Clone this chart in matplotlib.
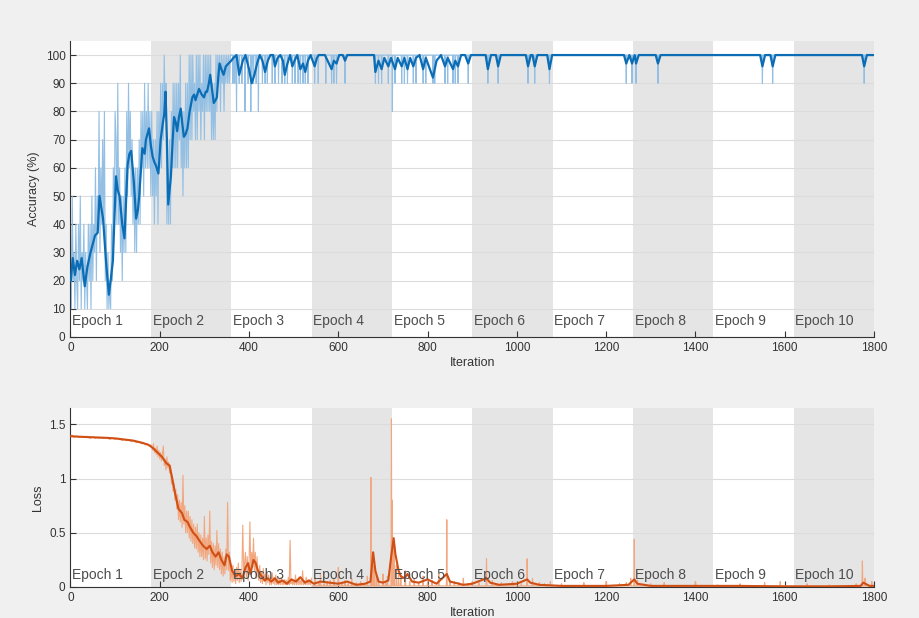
import matplotlib.pyplot as plt
import numpy as np

#----------------------------------------------------------------
# values
n_iter = 1800
epoch_len = 180
epoch_names = ["Epoch %d" % (i + 1) for i in range(10)]
xticks = [0, 200, 400, 600, 800, 1000, 1200, 1400, 1600, 1800]

# raw accuracy, epochs 1-2, one value every 2 iterations
acc_raw_early = [40, 10, 50, 20, 30, 10, 40, 20, 10, 40, 20, 50, 10, 30, 20, 40,
                 10, 30, 20, 10, 40, 20, 40, 10, 50, 20, 40, 30, 60, 20, 50,
                 40, 80, 30, 60, 40, 70, 40,
                 80, 20, 40, 10, 30, 10, 20, 10,
                 40, 20, 60, 40, 80,
                 70, 40, 90, 40, 60, 30, 50, 20, 50, 30,
                 60, 30, 80, 50, 90, 60, 80, 50, 70, 40,
                 60, 30, 60, 30, 60, 40, 70, 40, 80, 60,
                 80, 50, 90, 60, 80, 60, 90, 60, 80, 50,
                 80, 50, 70, 40, 70, 50, 80, 40, 80, 60,
                 90, 60, 90, 70, 100, 80, 90, 40, 60, 40,
                 70, 40, 80, 60, 90, 60, 90, 60, 90, 60,
                 90, 70, 100, 60, 80, 50, 80, 60, 90, 60,
                 90, 60, 100, 70, 100, 70, 100, 80, 90, 70,
                 100, 70, 100, 80, 100, 70, 90, 80, 100, 70,
                 100, 80, 100, 80, 100, 80, 100, 70, 90, 70,
                 90, 70, 100, 80, 100, 90, 100, 80, 100, 90,
                 100, 80, 100, 90, 100, 90, 100, 90, 100, 100]
# raw accuracy after that sits at 100 except for these drops
acc_dip_it = [364, 368, 372, 378, 384, 391, 398, 404, 406, 410, 416, 421, 430, 436,
              441, 452, 458, 466, 474, 480, 486, 497, 503, 510, 515, 521, 526, 532,
              547, 555, 572, 585, 590, 596, 615, 683, 690, 697, 712, 721, 727, 742,
              748, 755, 768, 774, 790, 796, 812, 816, 839, 845, 857, 862, 868, 891,
              935, 958, 1025, 1040, 1073, 1245, 1258, 1267, 1316, 1550, 1573, 1778]
acc_dip_val = [90, 90, 80, 90, 90, 80, 90, 80, 90, 90, 90, 80, 90, 90,
               90, 90, 90, 90, 90, 90, 90, 90, 90, 90, 90, 90, 90, 90,
               90, 90, 90, 90, 90, 90, 90, 90, 90, 90, 90, 80, 90, 90,
               90, 90, 90, 90, 90, 90, 90, 90, 90, 90, 90, 90, 90, 90,
               90, 90, 90, 90, 90, 90, 90, 90, 90, 90, 90, 90]

# smoothed accuracy
acc_sm_it = [1, 5, 10, 15, 20, 25, 32, 38, 45, 50, 55, 61, 65, 70, 73, 80, 86, 90, 95,
             102, 106, 110, 116, 121, 125, 128, 132, 136, 142, 147, 151, 154, 158, 161,
             166, 169, 176, 180, 184, 188, 191, 197, 202, 207, 210, 213, 216, 219, 222,
             225, 229, 232, 236, 239, 243, 247, 251, 254, 258, 262, 267, 273, 277, 280,
             284, 288, 294, 299, 303, 306, 310, 313, 317, 321, 325, 328, 331, 334, 338,
             343, 348, 354, 360, 365, 372, 378, 386, 392, 400, 406, 412, 418, 424, 430,
             436, 442, 448, 454, 458, 464, 470, 476, 480, 486, 492, 497, 502, 508, 515,
             521, 526, 532, 538, 547, 552, 556, 570, 585, 590, 596, 602, 610, 615, 620,
             680, 683, 690, 697, 703, 712, 718, 727, 733, 742, 748, 755, 761, 768, 774,
             782, 790, 796, 812, 820, 830, 839, 845, 857, 862, 868, 875, 884, 891, 897,
             930, 935, 942, 953, 958, 964, 1020, 1025, 1031, 1035, 1040, 1046, 1068,
             1073, 1079, 1240, 1245, 1252, 1258, 1264, 1267, 1273, 1311, 1316, 1322,
             1545, 1550, 1556, 1568, 1573, 1579, 1773, 1778, 1784, 1800]
acc_sm_val = [20, 28, 22, 27, 24, 28, 18, 25, 30, 33, 36, 37, 50, 45, 42, 26, 15, 20, 27,
              57, 52, 50, 40, 35, 50, 61, 65, 66, 55, 42, 45, 50, 60, 67,
              65, 70, 74, 68, 64, 62, 61, 58, 70, 76, 79, 87, 70, 47, 52,
              57, 70, 78, 76, 73, 78, 81, 75, 71, 72, 74, 80, 85, 86, 84,
              86, 88, 86, 85, 87, 87, 90, 93, 88, 83, 84, 85, 92, 97, 95,
              93, 96, 97, 98, 99, 100, 93, 98, 100, 95, 90, 93, 97, 100, 98,
              94, 98, 100, 100, 96, 99, 100, 98, 93, 97, 100, 96, 98, 100, 95,
              97, 94, 98, 100, 96, 99, 100, 100, 95, 98, 97, 100, 100, 98, 100,
              100, 94, 98, 95, 99, 96, 99, 95, 99, 96, 99, 95, 99, 96, 99,
              100, 95, 99, 92, 98, 100, 96, 99, 95, 98, 96, 100, 100, 97, 100,
              100, 95, 100, 100, 96, 100, 100, 96, 100, 100, 96, 100, 100,
              95, 100, 100, 97, 100, 97, 100, 97, 100, 100, 97, 100,
              100, 96, 100, 100, 96, 100, 100, 96, 100, 100]

# raw loss, epoch 1 every 4 iterations, then every 2 iterations up to 540
loss_raw_ep1 = [1.39, 1.40, 1.38, 1.39, 1.39, 1.38, 1.39, 1.38, 1.38, 1.39, 1.38, 1.37,
                1.38, 1.38, 1.37, 1.38, 1.37, 1.38, 1.37, 1.37, 1.38, 1.37, 1.36, 1.37,
                1.37, 1.36, 1.37, 1.36, 1.36, 1.35, 1.36, 1.35, 1.35, 1.36, 1.34, 1.35,
                1.34, 1.33, 1.34, 1.33, 1.32, 1.33, 1.31, 1.32, 1.30, 1.31]
loss_raw_ep2 = [1.30, 1.26, 1.32, 1.24, 1.28, 1.22, 1.30, 1.20, 1.26, 1.18,
                1.24, 1.16, 1.22, 1.30, 1.12, 1.18, 1.08, 1.20, 1.10, 1.15,
                1.05, 1.12, 0.95, 1.02, 0.88, 0.95, 0.80, 0.90, 0.72, 0.85,
                0.62, 0.80, 0.60, 0.78, 0.55, 1.03, 0.58, 0.75, 0.50, 0.70,
                0.50, 0.70, 0.45, 0.65, 0.42, 0.62, 0.40, 0.58, 0.36, 0.55,
                0.35, 0.58, 0.32, 0.50, 0.28, 0.48, 0.28, 0.45, 0.25, 0.65,
                0.26, 0.45, 0.24, 0.48, 0.30, 0.70, 0.22, 0.42, 0.18, 0.40,
                0.16, 0.38, 0.20, 0.52, 0.18, 0.40, 0.16, 0.35, 0.12, 0.32,
                0.10, 0.28, 0.12, 0.35, 0.16, 0.78, 0.15, 0.32, 0.06, 0.18,
                0.04, 0.20, 0.05, 0.15, 0.03, 0.18, 0.06, 0.22, 0.04, 0.16,
                0.05, 0.15, 0.57, 0.12, 0.22, 0.32, 0.08, 0.28, 0.06, 0.22,
                0.60, 0.12, 0.32, 0.18, 0.45, 0.15, 0.32, 0.08, 0.28, 0.10,
                0.06, 0.20, 0.04, 0.14, 0.03, 0.17, 0.05, 0.12, 0.02, 0.14,
                0.04, 0.11, 0.02, 0.09, 0.02, 0.13, 0.03, 0.09, 0.02, 0.11,
                0.02, 0.08, 0.02, 0.07, 0.02, 0.09, 0.02, 0.06, 0.02, 0.07,
                0.02, 0.06, 0.02, 0.09, 0.02, 0.43, 0.03, 0.07, 0.02, 0.06,
                0.02, 0.11, 0.02, 0.07, 0.02, 0.09, 0.02, 0.06, 0.02, 0.15,
                0.02, 0.06, 0.02, 0.09, 0.02, 0.07, 0.02, 0.06, 0.02, 0.08]
loss_floor = 0.01
loss_spike_it = [548, 556, 560, 568, 575, 582, 590, 600, 608, 615, 622, 630, 640, 650,
                 658, 665, 673, 676, 680, 685, 690, 700, 706, 710, 719, 721, 725, 730,
                 735, 740, 750, 760, 770, 780, 790, 800, 810, 825, 843, 850, 860, 870,
                 880, 890, 900, 915, 932, 945, 955, 965, 990, 1010, 1023, 1035, 1050,
                 1062, 1075, 1100, 1150, 1200, 1230, 1245, 1255, 1263, 1270, 1300, 1330,
                 1400, 1450, 1500, 1555, 1590, 1650, 1700, 1760, 1774, 1780, 1795]
loss_spike_val = [0.08, 0.04, 0.12, 0.03, 0.05, 0.06, 0.07, 0.18, 0.04, 0.06, 0.03, 0.08,
                  0.04, 0.05, 0.03, 0.10, 1.01, 0.30, 0.20, 0.12, 0.08, 0.12, 0.05, 0.10,
                  1.55, 0.80, 0.40, 0.20, 0.12, 0.10, 0.15, 0.05, 0.08, 0.04, 0.10, 0.05,
                  0.06, 0.12, 0.62, 0.06, 0.05, 0.04, 0.08, 0.03, 0.05, 0.04, 0.26, 0.06,
                  0.03, 0.04, 0.05, 0.03, 0.26, 0.08, 0.04, 0.03, 0.05, 0.03, 0.04, 0.05,
                  0.03, 0.04, 0.08, 0.44, 0.06, 0.03, 0.04, 0.05, 0.02, 0.03, 0.04, 0.05,
                  0.03, 0.02, 0.03, 0.24, 0.08, 0.05]

# smoothed loss
loss_sm_it = [0, 20, 50, 80, 100, 120, 140, 160, 175, 185, 195, 205, 215, 222, 228, 235,
              242, 250, 255, 262, 268, 275, 282, 290, 297, 305, 312, 318, 325, 332, 338,
              345, 350, 355, 362, 370, 378, 385, 392, 398, 403, 410, 415, 420, 428, 435,
              442, 450, 458, 465, 475, 485, 495, 505, 515, 525, 535, 545, 560, 580, 600,
              620, 640, 660, 672, 678, 683, 690, 700, 712, 719, 724, 728, 735, 740, 748,
              755, 765, 780, 800, 820, 843, 850, 860, 880, 900, 932, 940, 960, 1000,
              1023, 1030, 1050, 1100, 1150, 1200, 1250, 1263, 1270, 1300, 1400, 1500,
              1600, 1700, 1770, 1776, 1790, 1800]
loss_sm_val = [1.39, 1.385, 1.38, 1.375, 1.37, 1.36, 1.35, 1.33, 1.31, 1.28, 1.24, 1.20,
               1.14, 1.12, 1.00, 0.85, 0.72, 0.68, 0.62, 0.60, 0.55, 0.50, 0.47, 0.42,
               0.38, 0.35, 0.38, 0.32, 0.28, 0.32, 0.25, 0.20, 0.30, 0.28, 0.15, 0.10,
               0.12, 0.08, 0.18, 0.22, 0.12, 0.25, 0.22, 0.15, 0.10, 0.06, 0.08, 0.05,
               0.08, 0.04, 0.06, 0.03, 0.07, 0.05, 0.09, 0.04, 0.06, 0.03, 0.05, 0.04,
               0.03, 0.05, 0.02, 0.03, 0.05, 0.32, 0.15, 0.05, 0.04, 0.06, 0.30, 0.45,
               0.30, 0.15, 0.10, 0.08, 0.12, 0.05, 0.04, 0.07, 0.03, 0.12, 0.05, 0.04,
               0.02, 0.03, 0.08, 0.04, 0.02, 0.03, 0.07, 0.04, 0.02, 0.01, 0.01, 0.01,
               0.02, 0.07, 0.03, 0.01, 0.01, 0.01, 0.005, 0.005, 0.01, 0.04, 0.01, 0.01]

#----------------------------------------------------------------
# per-iteration x values for the raw series
it_acc_early = np.arange(0, 2 * len(acc_raw_early), 2)
it_late = np.arange(it_acc_early[-1] + 1, n_iter + 1)
acc_raw_late = np.full(len(it_late), 100.0)
for i, v in zip(acc_dip_it, acc_dip_val):
	acc_raw_late[i - it_late[0]] = v

it_loss_ep1 = np.arange(0, 4 * len(loss_raw_ep1), 4)
it_loss_ep2 = np.arange(it_loss_ep1[-1] + 2, it_loss_ep1[-1] + 2 + 2 * len(loss_raw_ep2), 2)
it_loss_early = np.concatenate([it_loss_ep1, it_loss_ep2])
loss_raw_early = loss_raw_ep1 + loss_raw_ep2
it_loss_late = np.arange(it_loss_early[-1] + 1, n_iter + 1)
loss_raw_late = np.full(len(it_loss_late), loss_floor)
for i, v in zip(loss_spike_it, loss_spike_val):
	loss_raw_late[i - it_loss_late[0]] = v

#----------------------------------------------------------------
plt.rcParams['font.family'] = ['Liberation Sans', 'DejaVu Sans']
fig = plt.figure(figsize=(9.2, 6.18), dpi=100, facecolor='#f0f0f0')

ax1 = fig.add_axes([0.0766, 0.4547, 0.8734, 0.479])
ax2 = fig.add_axes([0.0766, 0.0502, 0.8734, 0.2896])

def styleAxes(ax, ymax, yticks, ylabel, label_y) :
	ax.set_xlim(0, n_iter)
	ax.set_ylim(0, ymax)
	ax.set_facecolor('white')
	for e in range(10) :
		if e % 2 == 1 :
			ax.axvspan(e * epoch_len, (e + 1) * epoch_len, color='#e5e5e5', lw=0, zorder=0)
		ax.text(e * epoch_len + 4, label_y, epoch_names[e], fontsize=10,
			color='#4d4d4d', va='center', ha='left', zorder=5)
	for y in yticks :
		ax.axhline(y, color='#dcdcdc', lw=0.8, zorder=1)
	ax.set_xticks(xticks)
	ax.set_yticks(yticks)
	ax.tick_params(direction='in', length=4, colors='#333333', labelsize=8.5,
		top=False, right=False)
	for s in ['top', 'right'] :
		ax.spines[s].set_visible(False)
	for s in ['left', 'bottom'] :
		ax.spines[s].set_color('#333333')
		ax.spines[s].set_linewidth(0.8)
	ax.set_xlabel("Iteration", fontsize=9, color='#333333', labelpad=2)
	ax.set_ylabel(ylabel, fontsize=9, color='#333333', labelpad=4)

styleAxes(ax1, 105, list(range(0, 101, 10)), "Accuracy (%)", 5.5)
styleAxes(ax2, 1.65, [0, 0.5, 1, 1.5], "Loss", 0.11)
ax2.set_yticklabels(["0", "0.5", "1", "1.5"])

ax1.plot(it_acc_early, acc_raw_early, color='#92bfe3', lw=0.8, zorder=2)
ax1.plot(it_late, acc_raw_late, color='#92bfe3', lw=0.8, zorder=2)
ax1.plot(acc_sm_it, acc_sm_val, color='#0b6db5', lw=1.6, zorder=3)

ax2.plot(it_loss_early, loss_raw_early, color='#f2a77e', lw=0.8, zorder=2)
ax2.plot(it_loss_late, loss_raw_late, color='#f2a77e', lw=0.8, zorder=2)
ax2.plot(loss_sm_it, loss_sm_val, color='#cf4f14', lw=1.5, zorder=3)

fig.savefig("out.png", dpi=100, facecolor=fig.get_facecolor())
